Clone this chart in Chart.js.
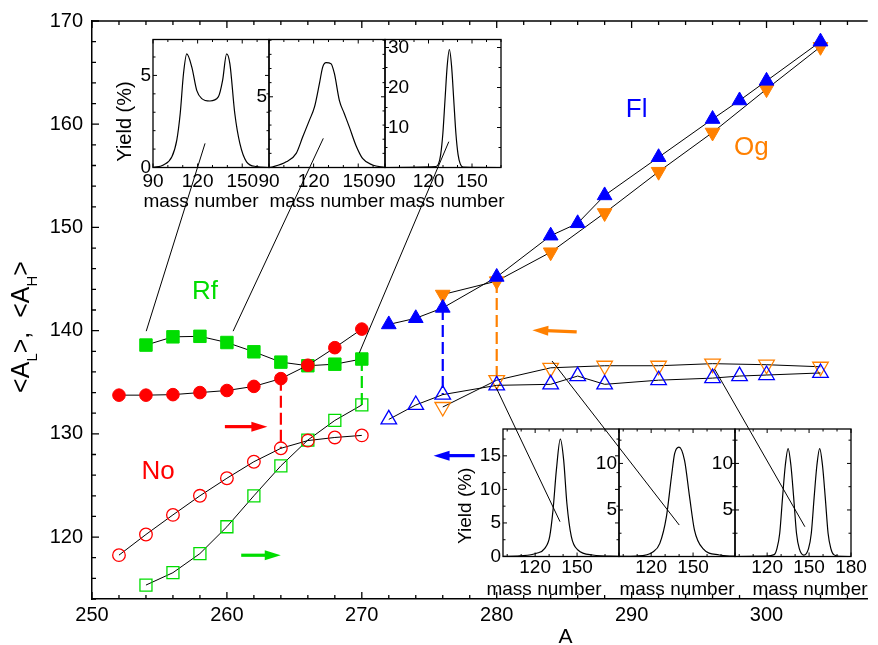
<!DOCTYPE html>
<html>
<head>
<meta charset="utf-8">
<script src="https://cdn.jsdelivr.net/npm/chart.js"></script>
<style>
html,body{margin:0;padding:0;background:#fff;}
#wrap{position:relative;width:878px;height:645px;overflow:hidden;background:#fff;}
#wrap canvas{position:absolute;}
</style>
</head>
<body>
<div id="wrap"><canvas id="main" width="878" height="645" style="left:0;top:0;width:878px;height:645px"></canvas></div>
<script>
const FONT = "'Liberation Sans', Arial, Helvetica, sans-serif";

// ===== main chart data =====
const A_No  = [252, 254, 256, 258, 260, 262, 264, 266, 268, 270];
const No_AH = [133.75, 133.75, 133.8, 134.0, 134.2, 134.6, 135.35, 136.65, 138.35, 140.15];
const No_AL = [118.25, 120.25, 122.15, 124.0, 125.7, 127.3, 128.6, 129.35, 129.65, 129.85];
const A_Rf  = [254, 256, 258, 260, 262, 264, 266, 268, 270];
const Rf_AH = [138.6, 139.4, 139.45, 138.85, 137.95, 136.95, 136.6, 136.75, 137.25];
const Rf_AL = [115.35, 116.55, 118.4, 121.0, 124.0, 126.9, 129.4, 131.3, 132.8];
const A_Fl  = [272, 274, 276, 280, 284, 286, 288, 292, 296, 298, 300, 304];
const Fl_AH = [140.6, 141.2, 142.2, 145.2, 149.2, 150.4, 153.1, 156.8, 160.5, 162.3, 164.2, 168.0];
const Fl_AL = [131.4, 132.8, 133.8, 134.7, 134.8, 135.6, 134.8, 135.2, 135.4, 135.6, 135.7, 135.9];
const A_Og  = [276, 280, 284, 288, 292, 296, 300, 304];
const Og_AH = [143.5, 144.8, 147.6, 151.4, 155.4, 159.2, 163.4, 167.5];
const Og_AL = [132.6, 135.2, 136.4, 136.6, 136.6, 136.8, 136.7, 136.5];
const xTicks = [250, 260, 270, 280, 290, 300];
const yTicks = [120, 130, 140, 150, 160, 170];
const dropAt = {No: 264, Rf: 270, Fl: 276, Og: 280};

// ===== inset data (mass number vs yield %) =====
const massT1  = [90, 97, 102.7, 106, 108.3, 110.5, 112.7, 116.1, 119.4, 122.8, 128.3, 133.9, 136.8, 139.5, 141.7, 145, 148.4, 152.9, 159.6, 168];
const yieldT1 = [0, 0.14, 0.58, 1.49, 2.93, 5.09, 6.17, 5.45, 4.19, 3.74, 3.61, 3.83, 4.73, 6.17, 5.63, 2.93, 1.31, 0.31, 0.05, 0];
const massT2  = [90, 92.7, 101.6, 108.3, 112.7, 117.2, 120.6, 123.9, 126.1, 128.4, 131.7, 134, 137.3, 140.6, 144, 148.4, 152.9, 159.6, 168];
const yieldT2 = [0, 0.05, 0.4, 1.0, 2.17, 3.35, 4.28, 5.93, 7.1, 7.41, 7.34, 6.63, 4.75, 3.82, 2.87, 1.58, 0.65, 0.18, 0];
const massT3  = [90, 125, 126.9, 128.4, 129.9, 131.4, 132.9, 134.4, 135.9, 137.4, 138.9, 140.4, 141.9, 144, 170];
const yieldT3 = [0, 0.2, 0.9, 3.2, 8.5, 17, 25.4, 29.5, 25.4, 17, 8.5, 3.2, 0.9, 0.1, 0];
const massB1  = [97, 109, 121, 126.9, 130.4, 132.8, 135.2, 138, 140.4, 142.7, 145.9, 150.6, 161.2, 180];
const yieldB1 = [0.02, 0.1, 0.48, 1.22, 2.96, 6.94, 12.9, 17.5, 14.4, 7.94, 2.96, 0.97, 0.22, 0.02];
const massB2  = [97, 109.6, 121.5, 126.2, 130.9, 134.5, 136.8, 139.9, 143.9, 147.5, 151, 156.9, 168.8, 180];
const yieldB2 = [0.02, 0.05, 0.51, 1.41, 4.26, 8.54, 11.05, 11.76, 10.33, 6.4, 2.84, 0.88, 0.16, 0.03];
const massB3  = [97, 119, 125, 127, 129, 131, 133, 135, 137, 139, 141, 143, 146.3, 149.6, 151.6, 153.6, 155.6, 157.6, 159.6, 161.6, 163.6, 165.6, 167.6, 172, 180];
const yieldB3 = [0, 0.05, 0.2, 0.85, 2.5, 6.3, 9.8, 11.6, 9.8, 6.3, 2.5, 0.85, 0.15, 0.85, 2.5, 6.3, 9.8, 11.6, 9.8, 6.3, 2.5, 0.85, 0.2, 0.02, 0];
const topInsetXTicks = [90, 120, 150];
const botInsetXTicks = [120, 150];
const lastInsetXTicks = [120, 150, 180];
const T1YTicks = [0, 5];
const T2YTicks = [5];
const T3YTicks = [10, 20, 30];
const B1YTicks = [0, 5, 10, 15];
const B23YTicks = [5, 10];

// ===== annotations (data coordinates) =====
const seriesLabels = [
  {text: 'Rf', A: 258.37, v: 143.04, key: 'Rf'},
  {text: 'No', A: 254.9,  v: 125.67, key: 'No'},
  {text: 'Fl', A: 290.37, v: 160.69, key: 'Fl'},
  {text: 'Og', A: 298.88, v: 157.03, key: 'Og'}
];
const arrows = [
  {from: [259.85, 130.7], to: [263.0, 130.7], key: 'No'},
  {from: [261.06, 118.24], to: [263.99, 118.24], key: 'Rf'},
  {from: [285.93, 139.88], to: [282.64, 140.05], key: 'Og'},
  {from: [278.37, 127.89], to: [275.32, 127.89], key: 'Fl'}
];
const connectors = [
  {inset: 'T1', A: 254.02, v: 139.95, mass: 125.0, yld: 1.31},
  {inset: 'T2', A: 260.46, v: 139.95, mass: 126.5, yld: 2.06},
  {inset: 'T3', A: 269.82, v: 137.86, mass: 134.0, yld: 6.45},
  {inset: 'B1', A: 279.96, v: 134.48, mass: 137.8, yld: 5.19},
  {inset: 'B2', A: 284.1,  v: 137.06, mass: 140.1, yld: 3.38},
  {inset: 'B3', A: 296.16, v: 136.26, mass: 147.0, yld: 3.2}
];

const COL = {No: '#ff0000', Rf: '#00dd00', Fl: '#0000ff', Og: '#ff8000'};

function xy(xs, ys) { return xs.map((x, i) => ({x: x, y: ys[i]})); }
function drop(xs, hi, lo, a) { const i = xs.indexOf(a); return [{x: a, y: hi[i]}, {x: a, y: lo[i]}]; }

// ===== insets =====
const wrap = document.getElementById('wrap');
const insetCharts = {}, insetOffsets = {};
const insetDefs = [
  {id: 'T1', box: [153, 39.5, 269, 167.5], xr: [90, 168], yr: [0, 6.95], mass: massT1, yld: yieldT1, xt: topInsetXTicks, yt: T1YTicks, yMajor: 5, yMinor: 1, inside: false, yTitle: true, titleDx: -10, grp: 'top'},
  {id: 'T2', box: [269, 39.5, 385, 167.5], xr: [90, 168], yr: [0, 9.05], mass: massT2, yld: yieldT2, xt: topInsetXTicks, yt: T2YTicks, yMajor: 5, yMinor: 1, inside: false, yTitle: false, titleDx: 0, grp: 'top'},
  {id: 'T3', box: [385, 39.5, 501, 167.5], xr: [90, 170], yr: [0, 32], mass: massT3, yld: yieldT3, xt: topInsetXTicks, yt: T3YTicks, yMajor: 10, yMinor: 5, inside: true, yTitle: false, titleDx: 4, grp: 'top'},
  {id: 'B1', box: [503, 429, 619, 556.5], xr: [97, 180], yr: [0, 19], mass: massB1, yld: yieldB1, xt: botInsetXTicks, yt: B1YTicks, yMajor: 5, yMinor: 2.5, inside: false, yTitle: true, titleDx: -17, grp: 'bot'},
  {id: 'B2', box: [619, 429, 735, 556.5], xr: [97, 180], yr: [0, 13.7], mass: massB2, yld: yieldB2, xt: botInsetXTicks, yt: B23YTicks, yMajor: 5, yMinor: 2.5, inside: false, yTitle: false, titleDx: 0, grp: 'bot'},
  {id: 'B3', box: [735, 429, 851, 556.5], xr: [97, 180], yr: [0, 13.7], mass: massB3, yld: yieldB3, xt: lastInsetXTicks, yt: B23YTicks, yMajor: 5, yMinor: 2.5, inside: false, yTitle: false, titleDx: 17, grp: 'bot'}
];
const grpStyle = {
  top: {xLabDy: 19.2, titleDy: 39.2, yTitleDx: -22, yTitleDy: 18, yTitleSize: 20},
  bot: {xLabDy: 16.5, titleDy: 38.5, yTitleDx: -32, yTitleDy: 13, yTitleSize: 19}
};
const M = {l: 52, r: 22, t: 8, b: 48};

function insetDeco(d) {
  const g = grpStyle[d.grp];
  return {
    id: 'deco' + d.id,
    afterDraw(chart) {
      const {ctx, chartArea: ca, scales: {x, y}} = chart;
      ctx.save();
      ctx.strokeStyle = '#000';
      ctx.lineWidth = 1.3;
      ctx.strokeRect(ca.left, ca.top, ca.right - ca.left, ca.bottom - ca.top);
      ctx.lineWidth = 1;
      ctx.beginPath();
      for (let v = Math.ceil(d.xr[0] / 10) * 10; v <= d.xr[1] + 1e-9; v += 10) {
        const px = x.getPixelForValue(v);
        const L = (v % 30 === 0) ? 4 : 2.5;
        ctx.moveTo(px, ca.bottom); ctx.lineTo(px, ca.bottom - L);
        ctx.moveTo(px, ca.top); ctx.lineTo(px, ca.top + L);
      }
      for (let v = d.yr[0]; v <= d.yr[1] + 1e-9; v += d.yMinor) {
        const py = y.getPixelForValue(v);
        const L = (Math.abs(v / d.yMajor - Math.round(v / d.yMajor)) < 1e-6) ? 4 : 2.5;
        ctx.moveTo(ca.left, py); ctx.lineTo(ca.left + L, py);
        ctx.moveTo(ca.right, py); ctx.lineTo(ca.right - L, py);
      }
      ctx.stroke();
      ctx.fillStyle = '#000';
      ctx.font = '19px ' + FONT;
      ctx.textAlign = 'center';
      ctx.textBaseline = 'alphabetic';
      d.xt.forEach(v => ctx.fillText(String(v), x.getPixelForValue(v), ca.bottom + g.xLabDy));
      ctx.textBaseline = 'middle';
      ctx.textAlign = d.inside ? 'left' : 'right';
      d.yt.forEach(v => ctx.fillText(String(v), d.inside ? ca.left + 3 : ca.left - 2, y.getPixelForValue(v)));
      ctx.textAlign = 'center';
      ctx.textBaseline = 'alphabetic';
      ctx.fillText('mass number', (ca.left + ca.right) / 2 + d.titleDx, ca.bottom + g.titleDy);
      if (d.yTitle) {
        ctx.save();
        ctx.translate(ca.left + g.yTitleDx, (ca.top + ca.bottom) / 2 + g.yTitleDy);
        ctx.rotate(-Math.PI / 2);
        ctx.font = g.yTitleSize + 'px ' + FONT;
        ctx.fillText('Yield (%)', 0, 0);
        ctx.restore();
      }
      ctx.restore();
    }
  };
}

insetDefs.forEach(d => {
  const [l, t, r, b] = d.box;
  const cl = Math.floor(l - M.l), ct = Math.floor(t - M.t);
  const cw = Math.ceil(r + M.r) - cl, chh = Math.ceil(b + M.b) - ct;
  const cv = document.createElement('canvas');
  cv.width = cw; cv.height = chh;
  cv.style.left = cl + 'px'; cv.style.top = ct + 'px';
  cv.style.width = cw + 'px'; cv.style.height = chh + 'px';
  wrap.appendChild(cv);
  insetOffsets[d.id] = {left: cl, top: ct};
  insetCharts[d.id] = new Chart(cv, {
    type: 'scatter',
    data: {datasets: [{data: xy(d.mass, d.yld), showLine: true, borderColor: '#000', borderWidth: 1.2,
      pointRadius: 0, cubicInterpolationMode: 'monotone'}]},
    options: {
      responsive: false, animation: false, devicePixelRatio: 1, events: [],
      layout: {padding: {left: l - cl, top: t - ct, right: cl + cw - r, bottom: ct + chh - b}},
      plugins: {legend: {display: false}, tooltip: {enabled: false}},
      scales: {
        x: {type: 'linear', display: false, min: d.xr[0], max: d.xr[1]},
        y: {type: 'linear', display: false, min: d.yr[0], max: d.yr[1]}
      }
    },
    plugins: [insetDeco(d)]
  });
});

// ===== main chart =====
function series(xs, ys, color, style, filled, radius, rot) {
  return {
    data: xy(xs, ys), showLine: true, borderColor: '#000', borderWidth: 1, tension: 0,
    pointStyle: style, pointRadius: radius, pointRotation: rot || 0,
    pointBackgroundColor: filled ? color : 'rgba(255,255,255,0)',
    pointBorderColor: color, pointBorderWidth: filled ? 1 : 1.3, order: 1
  };
}
function dashed(data, color) {
  return {data: data, showLine: true, borderColor: color, borderWidth: 2.2, borderDash: [12, 5], pointRadius: 0, order: 5};
}

function drawRich(ctx, parts, cx, cy, size, subSize, subDy) {
  ctx.save();
  ctx.translate(cx, cy);
  ctx.rotate(-Math.PI / 2);
  let total = 0;
  parts.forEach(p => { ctx.font = (p.sub ? subSize : size) + 'px ' + FONT; p.w = ctx.measureText(p.t).width; total += p.w; });
  let px = -total / 2;
  ctx.textAlign = 'left';
  ctx.textBaseline = 'alphabetic';
  parts.forEach(p => { ctx.font = (p.sub ? subSize : size) + 'px ' + FONT; ctx.fillText(p.t, px, p.sub ? subDy : 0); px += p.w; });
  ctx.restore();
}

const mainDeco = {
  id: 'mainDeco',
  afterDraw(chart) {
    const {ctx, chartArea: ca, scales: {x, y}} = chart;
    ctx.save();
    // top frame line
    ctx.strokeStyle = '#000';
    ctx.lineWidth = 1.5;
    ctx.beginPath(); ctx.moveTo(ca.left, ca.top); ctx.lineTo(ca.right, ca.top); ctx.stroke();
    // inward ticks
    ctx.lineWidth = 1.3;
    ctx.beginPath();
    for (let v = x.min; v <= x.max + 1e-9; v += 2) {
      const px = x.getPixelForValue(v);
      const L = (v % 10 === 0) ? 7 : 4;
      ctx.moveTo(px, ca.bottom); ctx.lineTo(px, ca.bottom - L);
      ctx.moveTo(px, ca.top); ctx.lineTo(px, ca.top + L);
    }
    for (let v = y.min; v <= y.max + 1e-9; v += 2) {
      const py = y.getPixelForValue(v);
      const L = (v % 10 === 0) ? 7 : 4;
      ctx.moveTo(ca.left, py); ctx.lineTo(ca.left + L, py);
    }
    ctx.stroke();
    // connectors to insets
    ctx.lineWidth = 1;
    ctx.beginPath();
    connectors.forEach(c => {
      const ic = insetCharts[c.inset], off = insetOffsets[c.inset];
      ctx.moveTo(x.getPixelForValue(c.A), y.getPixelForValue(c.v));
      ctx.lineTo(off.left + ic.scales.x.getPixelForValue(c.mass), off.top + ic.scales.y.getPixelForValue(c.yld));
    });
    ctx.stroke();
    // arrows
    arrows.forEach(a => {
      const x1 = x.getPixelForValue(a.from[0]), y1 = y.getPixelForValue(a.from[1]);
      const x2 = x.getPixelForValue(a.to[0]), y2 = y.getPixelForValue(a.to[1]);
      const len = Math.hypot(x2 - x1, y2 - y1), ux = (x2 - x1) / len, uy = (y2 - y1) / len;
      const hl = 16, hw = 5;
      const bx = x2 - ux * hl, by = y2 - uy * hl;
      ctx.strokeStyle = COL[a.key]; ctx.fillStyle = COL[a.key];
      ctx.lineWidth = 3.2;
      ctx.beginPath(); ctx.moveTo(x1, y1); ctx.lineTo(bx + ux * 2, by + uy * 2); ctx.stroke();
      ctx.beginPath();
      ctx.moveTo(x2, y2);
      ctx.lineTo(bx - uy * hw, by + ux * hw);
      ctx.lineTo(bx + uy * hw, by - ux * hw);
      ctx.closePath(); ctx.fill();
    });
    // series labels
    ctx.font = '26px ' + FONT;
    ctx.textAlign = 'center';
    ctx.textBaseline = 'alphabetic';
    seriesLabels.forEach(s => { ctx.fillStyle = COL[s.key]; ctx.fillText(s.text, x.getPixelForValue(s.A), y.getPixelForValue(s.v)); });
    // axis titles
    ctx.fillStyle = '#000';
    ctx.font = '21px ' + FONT;
    ctx.fillText('A', x.getPixelForValue(285.1), 643);
    drawRich(ctx, [{t: '<A'}, {t: 'L', sub: true}, {t: '>,  <A'}, {t: 'H', sub: true}, {t: '>'}], 29, 327, 25, 15, 8);
    ctx.restore();
  }
};

new Chart(document.getElementById('main'), {
  type: 'scatter',
  data: {
    datasets: [
      series(A_No, No_AH, COL.No, 'circle', true, 6.3),
      series(A_No, No_AL, COL.No, 'circle', false, 6.3),
      series(A_Rf, Rf_AH, COL.Rf, 'rect', true, 8.8),
      series(A_Rf, Rf_AL, COL.Rf, 'rect', false, 8.5),
      series(A_Fl, Fl_AH, COL.Fl, 'triangle', true, 8.5),
      series(A_Fl, Fl_AL, COL.Fl, 'triangle', false, 9),
      series(A_Og, Og_AH, COL.Og, 'triangle', true, 8.5, 180),
      series(A_Og, Og_AL, COL.Og, 'triangle', false, 9, 180),
      dashed(drop(A_No, No_AH, No_AL, dropAt.No), COL.No),
      dashed(drop(A_Rf, Rf_AH, Rf_AL, dropAt.Rf), COL.Rf),
      dashed(drop(A_Fl, Fl_AH, Fl_AL, dropAt.Fl), COL.Fl),
      dashed(drop(A_Og, Og_AH, Og_AL, dropAt.Og), COL.Og)
    ]
  },
  options: {
    responsive: false, animation: false, devicePixelRatio: 1, events: [],
    layout: {padding: {top: 18.5, right: 0, left: 0, bottom: 0}},
    plugins: {legend: {display: false}, tooltip: {enabled: false}},
    scales: {
      x: {
        type: 'linear', position: 'bottom', min: 250, max: 307.5,
        afterFit(s) { s.height = 46; },
        afterBuildTicks(s) { s.ticks = xTicks.map(v => ({value: v})); },
        grid: {display: false, drawTicks: false},
        border: {display: true, color: '#000', width: 1.5},
        ticks: {font: {family: FONT, size: 20}, color: '#000', padding: 4.5, maxRotation: 0, autoSkip: false}
      },
      y: {
        type: 'linear', position: 'left', min: 114, max: 170,
        afterFit(s) { s.width = 92; },
        afterBuildTicks(s) { s.ticks = yTicks.map(v => ({value: v})); },
        grid: {display: false, drawTicks: false},
        border: {display: true, color: '#000', width: 1.5},
        ticks: {font: {family: FONT, size: 20}, color: '#000', padding: 9, autoSkip: false}
      }
    }
  },
  plugins: [mainDeco]
});
</script>
</body>
</html>
